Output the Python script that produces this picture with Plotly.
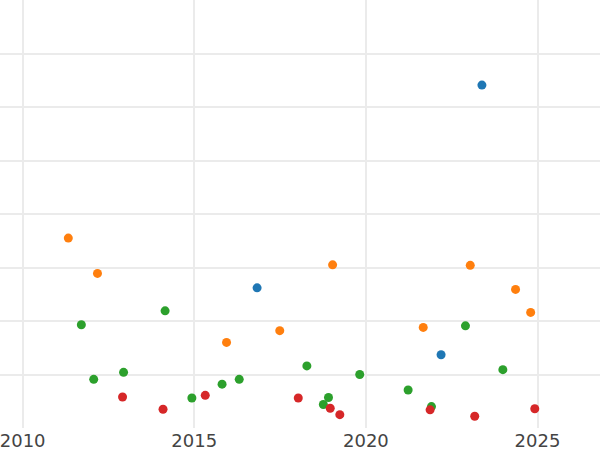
import plotly.graph_objects as go

blue_x = [2023.38, 2016.83, 2022.19]
blue_y = [6.41, 2.62, 1.37]

orange_x = [2011.33, 2012.18, 2015.94, 2017.49, 2019.03, 2021.67, 2023.04, 2024.36, 2024.80]
orange_y = [3.55, 2.89, 1.60, 1.82, 3.05, 1.88, 3.04, 2.59, 2.16]

green_x = [2011.71, 2012.07, 2012.94, 2014.15, 2014.93, 2015.81, 2016.31, 2018.28,
           2018.76, 2018.91, 2019.82, 2021.23, 2021.91, 2022.90, 2023.99]
green_y = [1.93, 0.91, 1.04, 2.19, 0.56, 0.82, 0.91, 1.16,
           0.44, 0.57, 1.00, 0.71, 0.40, 1.91, 1.09]

red_x = [2012.91, 2014.09, 2015.32, 2018.03, 2018.96, 2019.24, 2021.87, 2023.17, 2024.92]
red_y = [0.58, 0.35, 0.61, 0.56, 0.37, 0.25, 0.34, 0.22, 0.36]

x_ticks = [2010, 2015, 2020, 2025]

series = [
    (blue_x, blue_y, "#1f77b4"),
    (orange_x, orange_y, "#ff7f0e"),
    (green_x, green_y, "#2ca02c"),
    (red_x, red_y, "#d62728"),
]

fig = go.Figure()
for xs, ys, c in series:
    fig.add_trace(go.Scatter(x=xs, y=ys, mode="markers",
                             marker=dict(color=c, size=9, line=dict(width=0))))

fig.update_layout(
    width=600, height=450,
    margin=dict(l=0, r=0, t=0, b=22, pad=0),
    paper_bgcolor="white", plot_bgcolor="white",
    showlegend=False,
    font=dict(family="DejaVu Sans", size=18, color="#444444"),
)
fig.update_xaxes(range=[2009.34, 2026.82], tickvals=x_ticks, ticktext=[str(t) for t in x_ticks],
                 showgrid=True, gridcolor="#EBEBEB", gridwidth=2, zeroline=False,
                 showline=False, ticks="", ticklabeloverflow="allow")
fig.update_yaxes(range=[0, 8], dtick=1, showgrid=True, gridcolor="#EBEBEB", gridwidth=2,
                 zeroline=False, showticklabels=False, showline=False, ticks="")

fig.write_html("out.html", config={"displayModeBar": False},
               post_script="document.body.style.margin='0';")
